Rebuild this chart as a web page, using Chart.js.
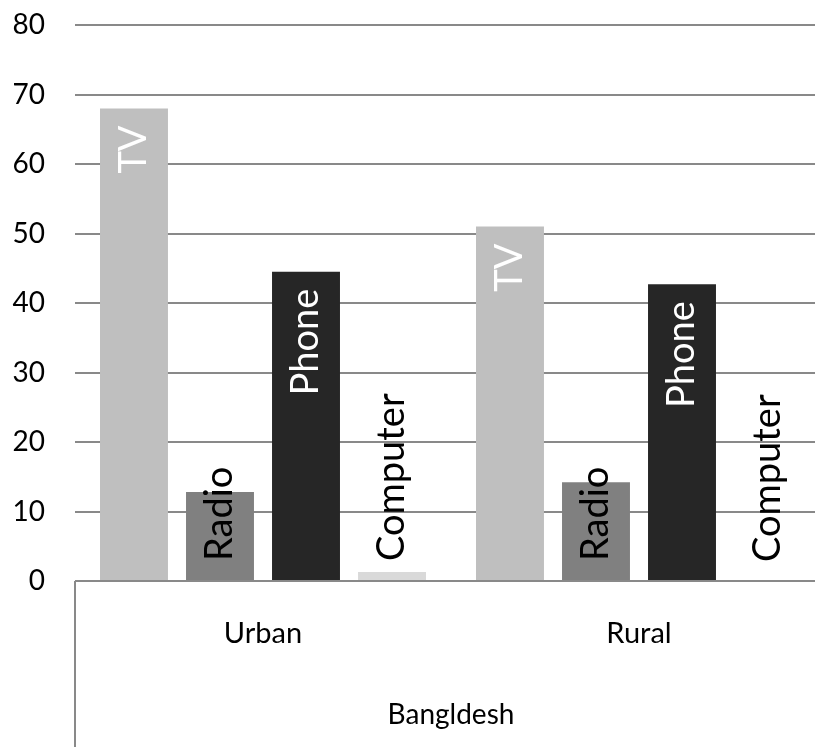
<!DOCTYPE html>
<html>
<head>
<meta charset="utf-8">
<script src="https://cdn.jsdelivr.net/npm/chart.js@4"></script>
<style>
  html, body { margin: 0; background: #fff; overflow: hidden; }
  canvas { display: block; }
</style>
</head>
<body>
<!-- plot runs a little past the right edge of the window, as in the original -->
<canvas id="chart" width="827" height="747"></canvas>
<script>
// data
const categories = ['Urban', 'Rural'];
const groupTitle = 'Bangldesh';
const seriesNames = ['TV', 'Radio', 'Phone', 'Computer'];
const tvValues = [68, 51];
const radioValues = [12.8, 14.2];
const phoneValues = [44.5, 42.7];
const computerValues = [1.3, 0];
const yMax = 80;
const yStep = 10;

const seriesColors = ['#bfbfbf', '#808080', '#262626', '#d9d9d9'];
// where the rotated label sits: 'end' = inside near top (white), 'base' = from the axis (black)
const labelPlace = ['end', 'base', 'end', 'base'];
const labelColor = ['#ffffff', '#000000', '#ffffff', '#000000'];

const FONT = 'Lato, "Open Sans", sans-serif';

// rotated series-name labels on each bar
const barLabels = {
  id: 'barLabels',
  afterDatasetsDraw(chart) {
    const ctx = chart.ctx;
    chart.data.datasets.forEach((ds, i) => {
      const meta = chart.getDatasetMeta(i);
      meta.data.forEach(bar => {
        ctx.save();
        ctx.font = '38px ' + FONT;
        ctx.fillStyle = labelColor[i];
        ctx.textBaseline = 'middle';
        if (labelPlace[i] === 'end') {
          ctx.translate(bar.x, bar.y + 17);
          ctx.rotate(-Math.PI / 2);
          ctx.textAlign = 'right';
        } else {
          ctx.translate(bar.x, bar.base - 19);
          ctx.rotate(-Math.PI / 2);
          ctx.textAlign = 'left';
        }
        ctx.fillText(ds.label, 0, 0);
        ctx.restore();
      });
    });
  }
};

// left edge of the category box below the axis
const categoryBox = {
  id: 'categoryBox',
  afterDraw(chart) {
    const { ctx, chartArea } = chart;
    ctx.save();
    ctx.strokeStyle = '#898989';
    ctx.lineWidth = 2;
    ctx.beginPath();
    ctx.moveTo(chartArea.left, chartArea.bottom);
    ctx.lineTo(chartArea.left, chart.height);
    ctx.stroke();
    ctx.restore();
  }
};

const valueLists = [tvValues, radioValues, phoneValues, computerValues];

new Chart(document.getElementById('chart'), {
  type: 'bar',
  data: {
    labels: categories,
    datasets: seriesNames.map((name, i) => ({
      label: name,
      data: valueLists[i],
      backgroundColor: seriesColors[i],
      categoryPercentage: 0.915,
      barPercentage: 0.79
    }))
  },
  options: {
    responsive: false,
    animation: false,
    layout: { padding: { top: 25, right: 0, left: 0, bottom: 0 } },
    plugins: {
      legend: { display: false },
      tooltip: { enabled: false }
    },
    scales: {
      x: {
        grid: { display: false, drawTicks: false },
        border: { display: false },
        ticks: { color: '#000', font: { family: FONT, size: 29 }, padding: 35 },
        title: {
          display: true,
          text: groupTitle,
          color: '#000',
          font: { family: FONT, size: 28 },
          padding: { top: 0, bottom: 15 }
        },
        afterFit(scale) { scale.height = 166; }
      },
      y: {
        min: 0,
        max: yMax,
        ticks: { stepSize: yStep, color: '#000', font: { family: FONT, size: 28 }, padding: 30 },
        grid: { color: '#898989', lineWidth: 2, drawTicks: false },
        border: { display: false },
        afterFit(scale) {
          scale.width = 75;
          scale.paddingTop = 0;
          scale.paddingBottom = 0;
        }
      }
    }
  },
  plugins: [barLabels, categoryBox]
});
</script>
</body>
</html>
